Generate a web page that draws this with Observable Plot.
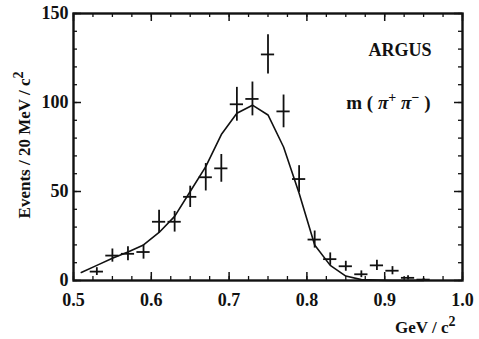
<!DOCTYPE html>
<html>
<head>
<meta charset="utf-8">
<script src="https://cdn.jsdelivr.net/npm/d3@7"></script>
<script src="https://cdn.jsdelivr.net/npm/@observablehq/plot@0.6"></script>
<style>
  body { margin: 0; background: #fff; }
  #chart svg { display: block; }
</style>
</head>
<body>
<div id="chart"></div>
<script>
// π+π− invariant mass spectrum, 20 MeV bins (bin centres in GeV/c²)
const mass   = [0.53, 0.55, 0.57, 0.59, 0.61, 0.63, 0.65, 0.67, 0.69, 0.71, 0.73,
                0.75, 0.77, 0.79, 0.81, 0.83, 0.85, 0.87, 0.89, 0.91, 0.93, 0.95];
const events = [5, 14, 15, 16, 33, 33, 47, 58, 63, 99, 102,
                127, 95, 57, 23, 12, 8, 3.5, 8.5, 5.5, 1.5, 0.5];
const errors = [2.2, 3.7, 3.9, 4.0, 6.5, 5.8, 6.0, 7.7, 7.8, 9.5, 9.5,
                11, 9.2, 7.5, 4.8, 3.5, 2.8, 1.9, 2.9, 2.3, 1.2, 0.7];

// fitted line shape
const fitMass   = [0.51, 0.53, 0.55, 0.57, 0.59, 0.61, 0.63, 0.65, 0.67, 0.69, 0.71, 0.73,
                   0.75, 0.77, 0.79, 0.81, 0.83, 0.85, 0.87, 0.89, 0.91, 0.93, 0.95];
const fitEvents = [4.5, 8.5, 12.5, 16, 20, 27, 36, 50, 64, 82, 94, 98.5,
                   93, 75, 49, 20, 8.5, 2.5, 0.5, 0.2, 0, 0, 0];

const xTickLabels = [0.5, 0.6, 0.7, 0.8, 0.9, 1.0];
const yTickLabels = [0, 50, 100, 150];
const xMinorTicks = d3.range(0, 21).map(i => 0.5 + i * 0.025);
const yMinorTicks = d3.range(0, 16).map(i => i * 10);

const points = mass.map((m, i) => ({m, n: events[i], e: errors[i]}));
const fit = fitMass.map((m, i) => ({m, n: fitEvents[i]}));
const halfBin = 0.0085;

const W = 479, H = 339;
const mL = 73, mR = 17, mT = 13, mB = 59;
const frameH = H - mT - mB, frameW = W - mL - mR;
const ink = "#111";

// inward tick marks of a given pixel length on all four sides
function ticks(xs, ys, len, width) {
  return [
    Plot.ruleX(xs, {x: d => d, insetTop: frameH - len, stroke: ink, strokeWidth: width}),
    Plot.ruleX(xs, {x: d => d, insetBottom: frameH - len, stroke: ink, strokeWidth: width}),
    Plot.ruleY(ys, {y: d => d, insetRight: frameW - len, stroke: ink, strokeWidth: width}),
    Plot.ruleY(ys, {y: d => d, insetLeft: frameW - len, stroke: ink, strokeWidth: width})
  ];
}

const chart = Plot.plot({
  width: W,
  height: H,
  marginLeft: mL,
  marginRight: mR,
  marginTop: mT,
  marginBottom: mB,
  style: {fontFamily: "'Liberation Serif', 'Times New Roman', serif", fontSize: "18px", fontWeight: "bold", color: ink, background: "#fff"},
  x: {domain: [0.5, 1.0], ticks: xTickLabels, tickFormat: d3.format(".1f"), tickSize: 0, tickPadding: 13, label: null},
  y: {domain: [0, 150], ticks: yTickLabels, tickSize: 0, tickPadding: 5, label: null},
  marks: [
    ...ticks(xMinorTicks, yMinorTicks, 4, 1.3),
    ...ticks(xTickLabels, yTickLabels, 8, 1.5),
    Plot.frame({stroke: ink, strokeWidth: 2.4}),
    // fit curve
    Plot.line(fit, {x: "m", y: "n", stroke: ink, strokeWidth: 1.6}),
    // data points with error bars
    Plot.ruleX(points, {x: "m", y1: d => d.n - d.e, y2: d => d.n + d.e, stroke: ink, strokeWidth: 1.8}),
    Plot.ruleY(points, {y: "n", x1: d => d.m - halfBin, x2: d => d.m + halfBin, stroke: ink, strokeWidth: 1.8}),
    // annotations
    Plot.text(["ARGUS"], {text: d => d, frameAnchor: "top-right", textAnchor: "end", lineAnchor: "bottom", dx: -31, dy: 42, fontSize: 18, fill: ink}),
    Plot.text(["m ( π+ π− )"], {text: d => d, frameAnchor: "top-right", textAnchor: "end", lineAnchor: "bottom", dx: -32, dy: 95, fontSize: 19, fill: ink}),
    Plot.text(["GeV / c2"], {text: d => d, frameAnchor: "bottom-right", textAnchor: "end", lineAnchor: "bottom", dx: -7, dy: 52, fontSize: 17, fill: ink}),
    Plot.text(["Events / 20 MeV / c2"], {text: d => d, frameAnchor: "left", textAnchor: "middle", lineAnchor: "middle", rotate: -90, dx: -49, dy: -2, fontSize: 17, fill: ink})
  ]
});

// rebuild labels with superscripts and italic symbols
function setSegments(content, segments) {
  const node = Array.from(chart.querySelectorAll("text")).find(n => n.textContent === content);
  if (!node) return;
  const t = d3.select(node);
  t.text(null);
  let shift = 0;
  for (const [str, kind] of segments) {
    const span = t.append("tspan").text(str);
    if (kind === "sup") {
      span.attr("dy", -7 - shift).attr("font-size", 14);
      shift = -7;
    } else {
      if (shift) span.attr("dy", -shift);
      shift = 0;
      if (kind === "it") span.attr("font-style", "italic");
    }
  }
}
setSegments("m ( π+ π− )", [["m ( ", ""], ["π", "it"], ["+", "sup"], [" ", ""], ["π", "it"], ["−", "sup"], [" )", ""]]);
setSegments("GeV / c2", [["GeV / c", ""], ["2", "sup"]]);
setSegments("Events / 20 MeV / c2", [["Events / 20 MeV / c", ""], ["2", "sup"]]);

document.getElementById("chart").appendChild(chart);
</script>
</body>
</html>
